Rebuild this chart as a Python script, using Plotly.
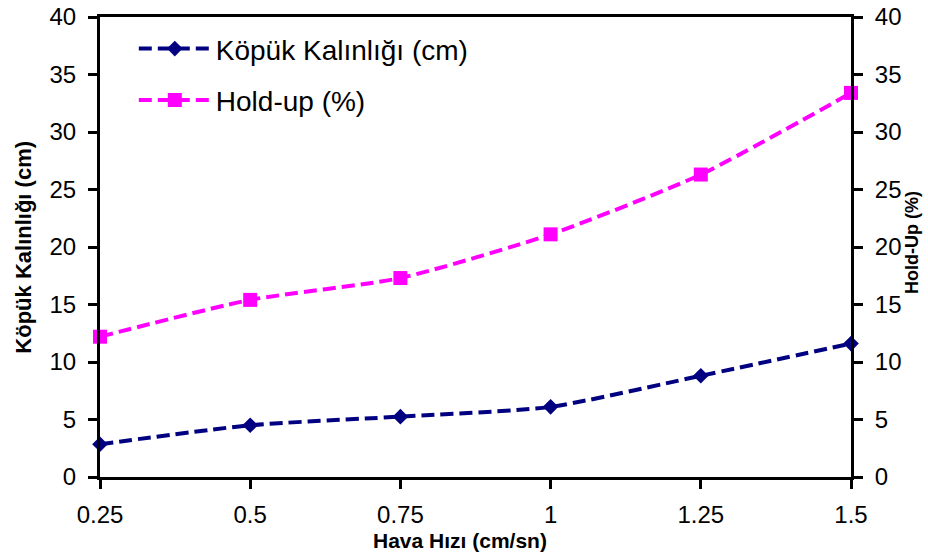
import plotly.graph_objects as go

# Air velocity (cm/s) and measured series
hava_hizi = [0.25, 0.5, 0.75, 1.0, 1.25, 1.5]
tick_labels = ["0.25", "0.5", "0.75", "1", "1.25", "1.5"]
kopuk_kalinligi = [2.85, 4.5, 5.25, 6.1, 8.8, 11.6]
hold_up = [12.2, 15.4, 17.3, 21.1, 26.3, 33.4]

FONT = "Liberation Sans, Arial, sans-serif"
NAVY = "#000080"
MAGENTA = "#FF00FF"

fig = go.Figure()

fig.add_trace(go.Scatter(
    x=hava_hizi, y=kopuk_kalinligi, name="Köpük Kalınlığı (cm)",
    mode="lines+markers", line=dict(color=NAVY, width=4, dash="13px,6px", shape="spline", smoothing=0.6),
    marker=dict(symbol="diamond", size=12, color=NAVY),
    cliponaxis=False, legendgroup="a", yaxis="y",
))
fig.add_trace(go.Scatter(
    x=hava_hizi, y=hold_up, name="Hold-up (%)",
    mode="lines+markers", line=dict(color=MAGENTA, width=4, dash="13px,6px", shape="spline", smoothing=0.6),
    marker=dict(symbol="square", size=14, color=MAGENTA),
    cliponaxis=False, legendgroup="b", yaxis="y2",
))

axis_common = dict(
    showgrid=False, zeroline=False, showline=True, linecolor="black", linewidth=3,
    ticks="outside", ticklen=9, tickwidth=3, tickcolor="black", automargin=False,
    tickfont=dict(family=FONT, size=24, color="black"),
)

fig.update_layout(
    width=928, height=557,
    margin=dict(l=100, r=77, t=17, b=80),
    paper_bgcolor="white", plot_bgcolor="white",
    xaxis=dict(range=[0.25, 1.5], tickvals=hava_hizi, ticktext=tick_labels,
               mirror=True, ticklabelstandoff=5, **axis_common),
    yaxis=dict(range=[0, 40], dtick=5, ticklabelstandoff=7, **axis_common),
    yaxis2=dict(range=[0, 40], dtick=5, overlaying="y", side="right",
                ticklabelstandoff=7, **axis_common),
    showlegend=True,
    legend=dict(x=0.045, y=0.985, xanchor="left", yanchor="top",
                font=dict(family=FONT, size=28, color="black"),
                bgcolor="rgba(0,0,0,0)", itemwidth=72, tracegroupgap=12,
                traceorder="grouped"),
    annotations=[
        dict(text="<b>Hava Hızı (cm/sn)</b>", xref="paper", yref="paper", x=0.48, y=-0.139,
             xanchor="center", yanchor="middle", showarrow=False,
             font=dict(family=FONT, size=21, color="black")),
        dict(text="<b>Köpük Kalınlığı (cm)</b>", xref="paper", yref="paper", x=-0.103, y=0.5,
             xanchor="center", yanchor="middle", showarrow=False, textangle=-90,
             font=dict(family=FONT, size=22, color="black")),
        dict(text="<b>Hold-Up (%)</b>", xref="paper", yref="paper", x=1.082, y=0.51,
             xanchor="center", yanchor="middle", showarrow=False, textangle=-90,
             font=dict(family=FONT, size=18, color="black")),
    ],
)

fig.write_html("out.html")
